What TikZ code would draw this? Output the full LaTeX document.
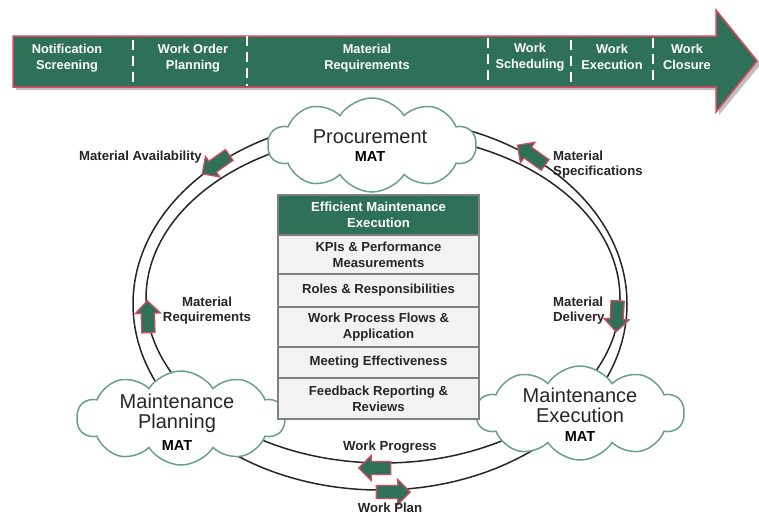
\documentclass[tikz,border=0pt]{standalone}
\usepackage{fontspec}
\setmainfont{Liberation Sans}
\usetikzlibrary{shapes.symbols,shapes.arrows}
\definecolor{dgreen}{RGB}{47,112,88}
\definecolor{redb}{RGB}{217,72,95}
\definecolor{cloudc}{RGB}{104,160,136}
\definecolor{txt}{RGB}{38,38,38}
\definecolor{rowfill}{RGB}{242,242,242}
\definecolor{rowline}{RGB}{128,128,128}
\begin{document}
\begin{tikzpicture}[x=1pt,y=-1pt,
  lbl/.style={font=\bfseries\fontsize{13.2}{15.5}\selectfont, text=txt, inner sep=0pt},
  bandtxt/.style={font=\bfseries\fontsize{12.8}{16}\selectfont, text=white, inner sep=0pt, align=center},
  cloudnode/.style={cloud, cloud puffs=10, cloud puff arc=115, cloud ignores aspect, draw=cloudc, line width=1.5pt, fill=white, minimum width=208pt, minimum height=94pt, inner sep=0pt},
  bigtxt/.style={font=\fontsize{20}{20}\selectfont, text=txt, inner sep=0pt, align=center},
  mattxt/.style={font=\bfseries\fontsize{14.5}{16}\selectfont, text=black, inner sep=0pt},
  tabrow/.style={draw=rowline, line width=1.3pt, fill=rowfill, minimum width=201pt, inner sep=0pt, align=center, font=\bfseries\fontsize{13.1}{16}\selectfont, text=txt},
  blk/.style={single arrow, draw=redb, fill=dgreen, line width=1.2pt, minimum height=#1, minimum width=24pt, single arrow head extend=6pt, inner xsep=0pt, inner ysep=6pt},
  ring/.style={draw=black!85, line width=1.5pt},
  sep/.style={draw=white, line width=1.6pt, dash pattern=on 10pt off 6pt}
]
\useasboundingbox[fill=white] (0,0) rectangle (759,515);

% top process arrow
\fill[black, opacity=0.25] (16,39) -- (719,39) -- (719,13) -- (761,64) -- (719,115) -- (719,90) -- (16,90) -- cycle;
\draw[fill=dgreen, draw=redb, line width=1.5pt, line join=miter] (13,36) -- (716,36) -- (716,10) -- (757,61) -- (716,112) -- (716,87) -- (13,87) -- cycle;
\foreach \x/\s in {133/40, 247/36, 488/38, 571/40, 653/38}
  \draw[sep] (\x,\s) -- (\x,86);
\node[bandtxt] (b1) at (67,58) {Notification\\Screening};
\node[bandtxt] (b2) at (193,58) {Work Order\\Planning};
\node[bandtxt] (b3) at (367,58) {Material\\Requirements};
\node[bandtxt] (b4) at (530,57) {Work\\Scheduling};
\node[bandtxt] (b5) at (612,57) {Work\\Execution};
\node[bandtxt] (b6) at (687,57) {Work\\Closure};

% ring
\draw[ring] (380,304) ellipse [x radius=247pt, y radius=186pt];
\draw[ring] (383,298.5) ellipse [x radius=237pt, y radius=164.5pt];

% clouds
\node[cloudnode] (proc) at (372,145) {};
\node[bigtxt] (proct) at (370,137) {Procurement};
\node[mattxt] (procm) at (370,157) {MAT};

\node[cloudnode] (plan) at (181,418) {};
\node[bigtxt] (plant) at (177,413) {Maintenance\\Planning};
\node[mattxt] (planm) at (177,445) {MAT};

\node[cloudnode] (exec) at (580,413) {};
\node[bigtxt] (exect) at (580,405) {Maintenance\\Execution};
\node[mattxt] (execm) at (580,436) {MAT};

% table
\node[tabrow, fill=dgreen, text=white, minimum height=40pt] (r0) at (378.5,215) {Efficient Maintenance\\Execution};
\node[tabrow, minimum height=39pt] (r1) at (378.5,254.5) {KPIs \& Performance\\Measurements};
\node[tabrow, minimum height=33pt] (r2) at (378.5,290.5) {Roles \& Responsibilities};
\node[tabrow, minimum height=40pt] (r3) at (378.5,327) {Work Process Flows \&\\Application};
\node[tabrow, minimum height=31pt] (r4) at (378.5,362.5) {Meeting Effectiveness};
\node[tabrow, minimum height=41pt] (r5) at (378.5,398.5) {Feedback Reporting \&\\Reviews};

% block arrows
\node[blk=33pt, rotate=215] (a1) at (218.5,162.5) {};
\node[blk=34pt, rotate=144.5] (a2) at (534,157) {};
\node[blk=32pt, rotate=92] (a3) at (148,320) {};
\node[blk=31pt, rotate=-93] (a4) at (617,313) {};
\node[blk=32pt, rotate=180] (a5) at (378,468) {};
\node[blk=34pt, rotate=0] (a6) at (390,492) {};

% labels
\node[lbl, anchor=east] (l1) at (202,157) {Material Availability};
\node[lbl, anchor=west, align=left] (l2) at (553,164.5) {Material\\Specifications};
\node[lbl, align=center] (l3) at (207,310.5) {Material\\Requirements};
\node[lbl, anchor=west, align=left] (l4) at (553,310.5) {Material\\Delivery};
\node[lbl] (l5) at (390,447) {Work Progress};
\node[lbl] (l6) at (390,507.5) {Work Plan};
\end{tikzpicture}
\end{document}
